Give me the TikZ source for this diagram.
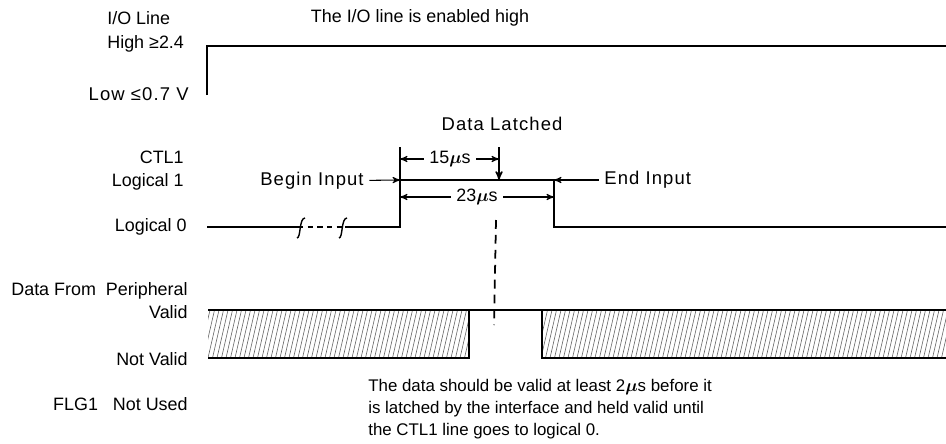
\documentclass[tikz,border=0pt]{standalone}
\usepackage{fontspec}
\setmainfont{Liberation Sans}
\newfontfamily\widefont[LetterSpace=6]{Liberation Sans}
\usepackage{tikz}
\usetikzlibrary{arrows}

\begin{document}
\begin{tikzpicture}[x=0.02cm,y=-0.02cm,>=stealth',
  sig/.style={line width=1pt},
  lbl/.style={font=\fontsize{10.2}{12}\selectfont,inner sep=0pt},
  wide lbl/.style={font=\widefont\fontsize{10.5}{12}\selectfont,inner sep=0pt},
  hatch/.style={line width=0.35pt,black!60}]

  \useasboundingbox (0,0) rectangle (946,443);

  % labels on the left
  \node[lbl,anchor=west] (iol) at (107,18) {I/O Line};
  \node[lbl,anchor=west] (high) at (107,44) {High ≥2.4};
  \node[wide lbl,anchor=east] (low) at (189,94) {Low\ ≤0.7 V};
  \node[lbl,anchor=east] (ctl) at (184,157) {CTL1};
  \node[lbl,anchor=east] (log1) at (184,182) {Logical 1};
  \node[lbl,anchor=east] (log0) at (187,227) {Logical 0};
  \node[lbl,anchor=east] (dfp) at (188,291) {Data From\ \ Peripheral};
  \node[lbl,anchor=east] (valid) at (188,312) {Valid};
  \node[lbl,anchor=east] (nvalid) at (188,359) {Not Valid};
  \node[lbl,anchor=east] (flg) at (188,404) {FLG1\ \ \ Not Used};

  \node[lbl] (enab) at (420,18) {The I/O line is enabled high};
  \node[wide lbl] (latch) at (502,124) {Data Latched};

  % I/O line
  \coordinate (io0) at (207,95);
  \coordinate (io1) at (207,46);
  \coordinate (io2) at (946,46);
  \draw[sig] (io0) -- (io1) -- (io2);

  % CTL1 line
  \coordinate (c0) at (207,227);
  \coordinate (b1) at (298,227);
  \coordinate (b2) at (345,227);
  \coordinate (up0) at (400,227);
  \coordinate (up1) at (400,180);
  \coordinate (dn1) at (554,180);
  \coordinate (dn0) at (554,227);
  \coordinate (c1) at (946,227);
  \draw[sig] (c0) -- (b1);
  \draw[sig] (b2) -- (up0) -- (up1) -- (dn1) -- (dn0) -- (c1);
  \draw[line width=0.6pt,dash pattern=on 3pt off 2.5pt] (b1) -- (b2);
  \draw[line width=0.8pt] (297,238) .. controls (301,238) and (299,218) .. (305,218);
  \draw[line width=0.8pt] (339,238) .. controls (343,238) and (341,218) .. (347,218);

  % timing marks
  \coordinate (t15) at (400,147);
  \coordinate (m15) at (499,147);
  \coordinate (m15b) at (499,180);
  \draw[line width=0.8pt] (t15) -- (up1);
  \draw[->,line width=0.8pt] (m15) -- (m15b);
  \node[lbl,fill=white,inner xsep=3pt] (w15) at (450,159) {15{\boldmath$\mu$}s};
  \draw[->,line width=0.6pt] (w15) -- (400,159);
  \draw[->,line width=0.6pt] (w15) -- (499,159);
  \node[lbl,fill=white,inner xsep=3pt] (w23) at (477,197) {23{\boldmath$\mu$}s};
  \draw[->,line width=0.6pt] (w23) -- (400,197);
  \draw[->,line width=0.6pt] (w23) -- (554,197);

  \node[wide lbl,anchor=east] (bin) at (364,181) {Begin Input};
  \node[wide lbl,anchor=west] (ein) at (604,180) {End Input};
  \draw[->,line width=0.6pt,shorten <=3pt] (bin) -- (up1);
  \draw[->,line width=0.6pt,shorten <=3pt] (ein) -- (dn1);

  % latch line
  \coordinate (dl0) at (496,220);
  \coordinate (dl1) at (494,325);
  \draw[line width=1pt,dash pattern=on 5pt off 3.5pt] (dl0) -- (dl1);

  % data from peripheral
  \begin{scope}
    \clip (208,310) rectangle (469,358) (542,310) rectangle (946,358);
    \foreach \x in {190,194.5,...,950}
      \draw[hatch] (\x,358) -- (\x+11,310);
  \end{scope}
  \coordinate (v0) at (208,310);
  \coordinate (v1) at (946,310);
  \coordinate (n0) at (208,358);
  \coordinate (n1) at (469,358);
  \coordinate (n2) at (542,358);
  \coordinate (n3) at (946,358);
  \draw[sig] (v0) -- (v1);
  \draw[sig] (n0) -- (n1) -- (469,310);
  \draw[sig] (542,310) -- (n2) -- (n3);

  \node[lbl,anchor=north west,align=left,font=\fontsize{9.6}{12}\selectfont] (note) at (368,379)
    {The data should be valid at least 2{\boldmath$\mu$}s before it\\[0.5pt]
     is latched by the interface and held valid until\\[0.5pt]
     the CTL1 line goes to logical 0.};
\end{tikzpicture}
\end{document}
